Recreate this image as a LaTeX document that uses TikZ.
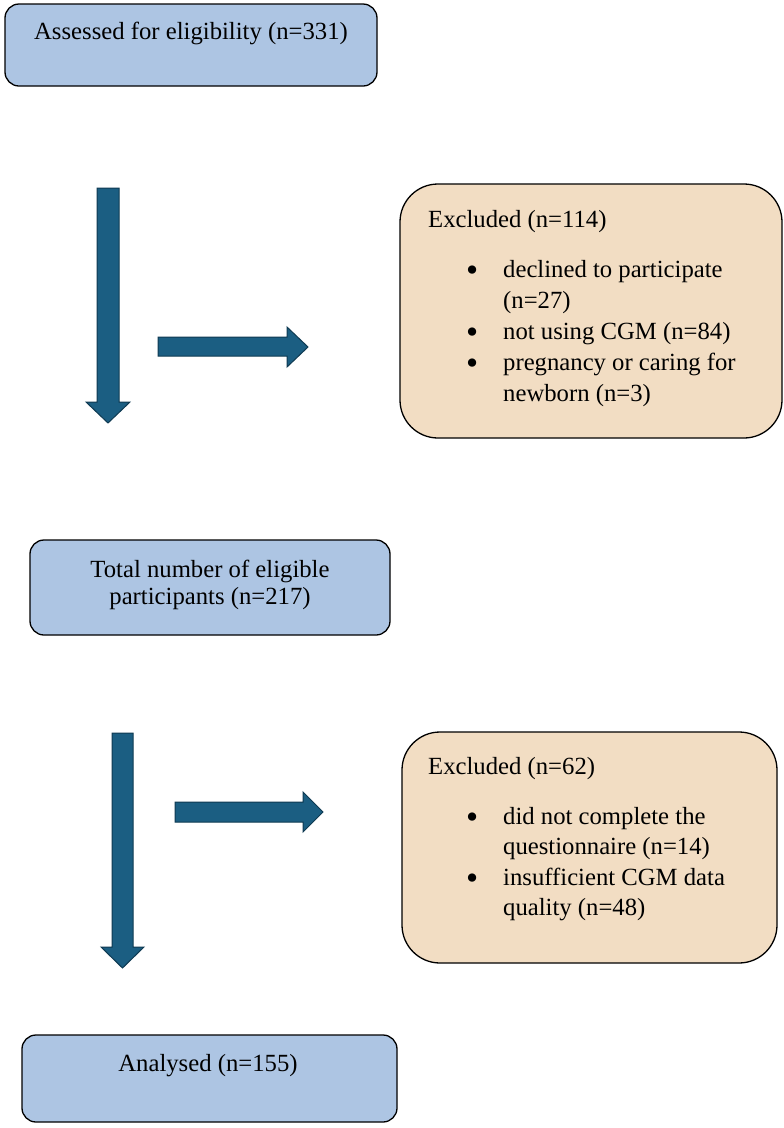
\documentclass[tikz,border=0pt]{standalone}
\usepackage{fontspec}
\setmainfont{Liberation Serif}
\definecolor{boxblue}{HTML}{ADC5E3}
\definecolor{boxpeach}{HTML}{F2DDC3}
\definecolor{arrowfill}{HTML}{1B5E82}
\definecolor{arrowline}{HTML}{0F3A52}
\newcommand{\bigbul}{\smash{\raisebox{-4pt}{\scalebox{1.4}{\textbullet}}}}
\begin{document}
\begin{tikzpicture}[x=1pt,y=-1pt,
  bluebox/.style={draw=black, line width=1.3pt, fill=boxblue, rounded corners=14pt, inner sep=0pt},
  peachbox/.style={draw=black, line width=1.3pt, fill=boxpeach, rounded corners=38pt, inner sep=0pt},
  blockarrow/.style={fill=arrowfill, draw=arrowline, line width=1pt, line join=miter},
  txt/.style={font=\fontsize{24.7}{31}\selectfont, inner sep=0pt, text=black},
  txtb/.style={font=\fontsize{24.7}{30.5}\selectfont, inner sep=0pt, text=black},
  txtc/.style={font=\fontsize{24.7}{26.5}\selectfont, inner sep=0pt, text=black, align=center}]
\useasboundingbox (0,0) rectangle (784,1128);

% boxes
\node[bluebox, minimum width=372pt, minimum height=82pt] (assess) at (191,45) {};
\node[txt, anchor=base] (assesst) at (191,39) {Assessed for eligibility (n=331)};

\node[peachbox, minimum width=382pt, minimum height=254pt] (excl1) at (591,311) {};
\node[txt, anchor=base west] (excl1h) at (428,227) {Excluded (n=114)};
\node[txt, anchor=base west] (excl1l) at (466,277) {%
\begin{tabular}[t]{@{}p{37pt}@{}l@{}}
\bigbul & declined to participate\\
 & (n=27)\\
\bigbul & not using CGM (n=84)\\
\bigbul & pregnancy or caring for\\
 & newborn (n=3)
\end{tabular}};

\node[bluebox, minimum width=360pt, minimum height=95pt] (total) at (210,587.5) {};
\node[txtc, anchor=center] (totalt) at (210,585) {Total number of eligible\\participants (n=217)};

\node[peachbox, minimum width=375pt, minimum height=231pt] (excl2) at (589.5,847.5) {};
\node[txt, anchor=base west] (excl2h) at (428,774) {Excluded (n=62)};
\node[txtb, anchor=base west] (excl2l) at (466,824) {%
\begin{tabular}[t]{@{}p{37pt}@{}l@{}}
\bigbul & did not complete the\\
 & questionnaire (n=14)\\
\bigbul & insufficient CGM data\\
 & quality (n=48)
\end{tabular}};

\node[bluebox, minimum width=375pt, minimum height=87pt] (analysed) at (209.5,1078.5) {};
\node[txt, anchor=base] (analysedt) at (208,1071) {Analysed (n=155)};

% block arrows
\draw[blockarrow] (97,188) -- (119,188) -- (119,402) -- (130,402) -- (108,423) -- (86,402) -- (97,402) -- cycle;
\draw[blockarrow] (158,337) -- (287,337) -- (287,327) -- (308,347) -- (287,367) -- (287,356) -- (158,356) -- cycle;
\draw[blockarrow] (112,733) -- (133,733) -- (133,947) -- (144,947) -- (122.5,968) -- (101,947) -- (112,947) -- cycle;
\draw[blockarrow] (175,802) -- (303,802) -- (303,792) -- (323,812) -- (303,832) -- (303,822) -- (175,822) -- cycle;
\end{tikzpicture}
\end{document}
